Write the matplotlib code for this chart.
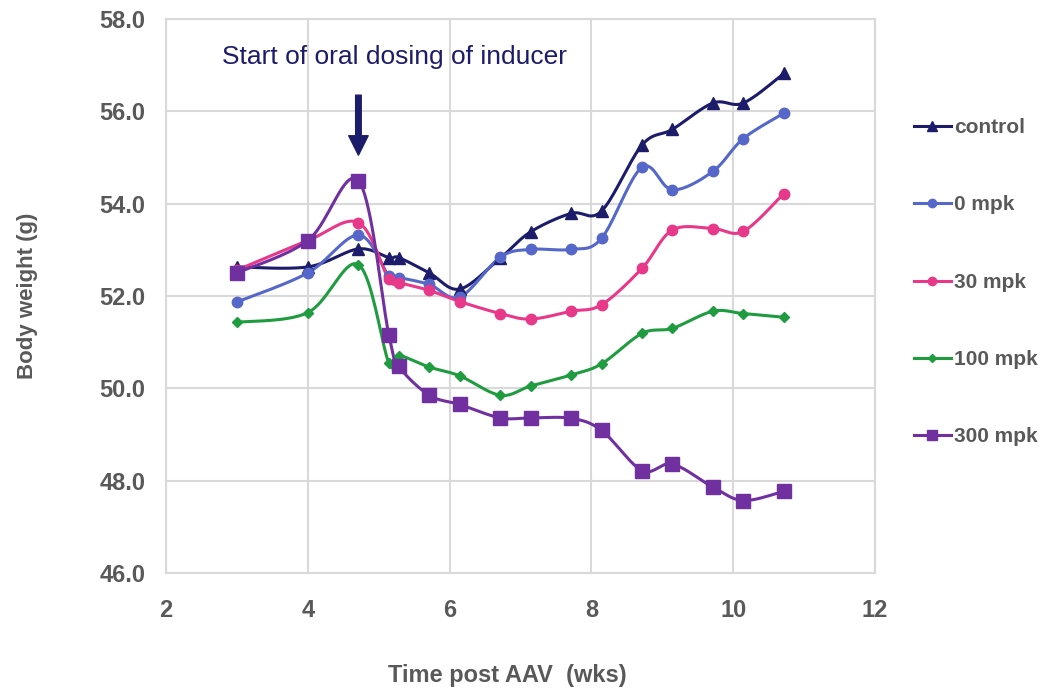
import numpy as np
import matplotlib
matplotlib.use("Agg")
import matplotlib.pyplot as plt
from matplotlib.lines import Line2D

weeks = [3, 4, 33/7, 36/7, 37/7, 40/7, 43/7, 47/7, 50/7, 54/7, 57/7, 61/7, 64/7, 68/7, 71/7, 75/7]

control = [52.63, 52.63, 53.02, 52.83, 52.83, 52.50, 52.15, 52.82, 53.39, 53.79, 53.84, 55.27, 55.61, 56.18, 56.18, 56.82]
mpk0    = [51.87, 52.50, 53.32, 52.44, 52.40, 52.25, 51.98, 52.84, 53.01, 53.01, 53.25, 54.79, 54.30, 54.70, 55.41, 55.96]
mpk30   = [52.56, 53.20, 53.59, 52.36, 52.29, 52.12, 51.88, 51.62, 51.50, 51.67, 51.81, 52.60, 53.43, 53.46, 53.40, 54.22]
mpk100  = [51.43, 51.64, 52.68, 50.55, 50.71, 50.46, 50.27, 49.85, 50.05, 50.29, 50.53, 51.19, 51.30, 51.67, 51.62, 51.54]
mpk300  = [52.50, 53.20, 54.50, 51.16, 50.48, 49.85, 49.65, 49.36, 49.36, 49.35, 49.09, 48.22, 48.36, 47.86, 47.57, 47.77]

labels = ["control", "0 mpk", "30 mpk", "100 mpk", "300 mpk"]
colors = ["#1c1c6b", "#5568c9", "#e8388a", "#1f9b40", "#7030a0"]
markers = ["^", "o", "o", "D", "s"]
msizes = [9, 7.5, 7.5, 5.5, 9.5]
series = [control, mpk0, mpk30, mpk100, mpk300]

x_ticks = [2, 4, 6, 8, 10, 12]
y_ticks = [46, 48, 50, 52, 54, 56, 58]

annot_text = "Start of oral dosing of inducer"
dose_start = 33/7

def smooth(x, y, n=20):
    x = np.asarray(x, float); y = np.asarray(y, float)
    px = np.concatenate([[x[0]], x, [x[-1]]])
    py = np.concatenate([[y[0]], y, [y[-1]]])
    ox, oy = [], []
    t = np.linspace(0, 1, n)
    for i in range(len(x) - 1):
        p0 = np.array([px[i+1], py[i+1]]); p3 = np.array([px[i+2], py[i+2]])
        pm = np.array([px[i], py[i]]); pp = np.array([px[i+3], py[i+3]])
        c1 = p0 + (p3 - pm) / 6.0
        c2 = p3 - (pp - p0) / 6.0
        for tt in t[:-1] if i < len(x) - 2 else t:
            b = ((1-tt)**3)*p0 + 3*((1-tt)**2)*tt*c1 + 3*(1-tt)*tt*tt*c2 + tt**3*p3
            ox.append(b[0]); oy.append(b[1])
    return np.array(ox), np.array(oy)

plt.rcParams['font.family'] = ['Liberation Sans', 'DejaVu Sans']

fig = plt.figure(figsize=(10.4, 6.91), dpi=100)
ax = fig.add_axes([166/1040, 1 - 573/691, (875-166)/1040, (573-19)/691])

grid_c = "#d9d9d9"
ax.set_xlim(2, 12)
ax.set_ylim(46, 58)
ax.set_xticks(x_ticks)
ax.set_yticks(y_ticks)
ax.set_xticklabels([str(v) for v in x_ticks])
ax.set_yticklabels([f"{v:.1f}" for v in y_ticks])
ax.grid(True, color=grid_c, linewidth=1.5)
ax.set_axisbelow(True)
for s in ax.spines.values():
    s.set_color(grid_c)
    s.set_linewidth(1.5)
ax.tick_params(axis='both', length=0, labelsize=17, labelcolor="#595959")
ax.tick_params(axis='y', pad=15)
ax.tick_params(axis='x', pad=19)
for lab in ax.get_xticklabels() + ax.get_yticklabels():
    lab.set_fontweight('bold')

handles = []
for ys, lab, c, m, ms in zip(series, labels, colors, markers, msizes):
    sx, sy = smooth(weeks, ys)
    ax.plot(sx, sy, color=c, linewidth=2.2, zorder=3)
    ax.plot(weeks, ys, linestyle='none', marker=m, markersize=ms, color=c, zorder=4)
    handles.append(Line2D([0], [0], color=c, linewidth=2.2, marker=m, markersize=ms*0.8))

ax.set_ylabel("Body weight (g)", fontsize=16, fontweight='bold', color="#595959", labelpad=44)
ax.set_xlabel("Time post AAV  (wks)", fontsize=17, fontweight='bold', color="#595959")
ax.xaxis.set_label_coords(0.481, -0.165)

ax.text(0.079, 0.931, annot_text, transform=ax.transAxes, fontsize=19, color="#1c1c6b",
        va='center', ha='left')
ax.annotate("", xy=(dose_start, 55.05), xytext=(dose_start, 56.35),
            arrowprops=dict(facecolor="#1c1c6b", edgecolor="#1c1c6b", width=4,
                            headwidth=14, headlength=14, shrink=0))

leg = fig.legend(handles, labels, loc='upper left', bbox_to_anchor=(0.879, 0.829),
                 frameon=False, labelspacing=2.8, handlelength=1.75,
                 handletextpad=0.15, borderaxespad=0, borderpad=0,
                 labelcolor="#595959", prop={'weight': 'bold', 'size': 15})

fig.savefig("out.png", dpi=100)
